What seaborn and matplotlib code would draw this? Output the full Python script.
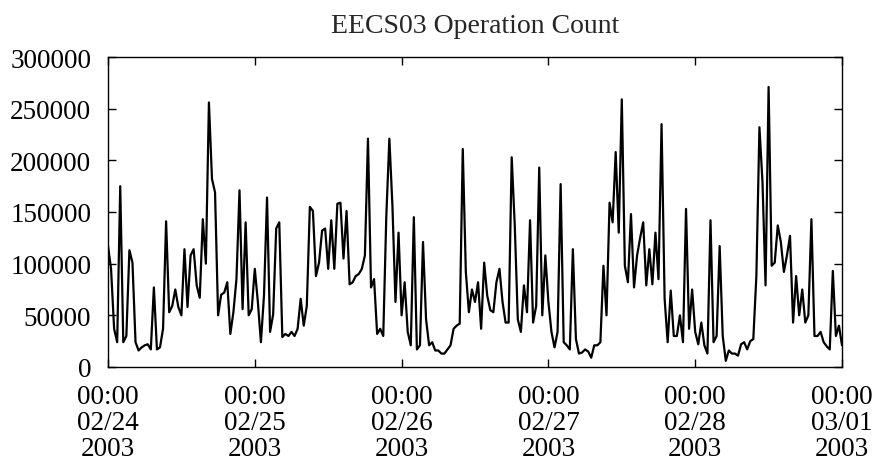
import numpy as np
import pandas as pd
import matplotlib
matplotlib.use("Agg")
import matplotlib.pyplot as plt
import matplotlib.dates as mdates
import seaborn as sns

# ---- data (30-minute samples, thousands of operations) ----
start_time = "2003-02-24 00:00"
sample_freq = "30min"
ops_thousands = [
    117, 95, 37, 24, 175, 24, 30, 113, 101, 24, 16, 19, 21, 22, 17, 77, 17, 19, 37, 141,
    53, 59, 75, 58, 50, 114, 58, 108, 114, 79, 67, 143, 100, 256, 182, 169, 50, 70, 72, 82,
    32, 53, 85, 171, 56, 140, 50, 56, 95, 63, 24, 69, 164, 34, 51, 134, 140, 29, 32, 30,
    34, 30, 37, 66, 40, 59, 155, 151, 88, 101, 132, 134, 95, 142, 95, 158, 159, 105, 151, 80,
    82, 88, 90, 95, 108, 221, 77, 85, 32, 37, 30, 146, 221, 156, 63, 130, 50, 82, 34, 21,
    145, 17, 21, 121, 46, 21, 24, 16, 16, 13, 13, 17, 21, 37, 40, 42, 211, 92, 53, 75,
    63, 82, 37, 101, 69, 55, 53, 82, 95, 63, 43, 43, 203, 137, 46, 34, 79, 53, 142, 43,
    59, 193, 50, 108, 63, 34, 19, 34, 177, 24, 21, 17, 114, 27, 13, 14, 17, 15, 9, 21,
    21, 24, 98, 50, 159, 140, 208, 130, 259, 98, 82, 148, 77, 108, 125, 140, 79, 114, 80, 130,
    85, 235, 66, 24, 74, 30, 30, 50, 24, 153, 37, 75, 34, 22, 43, 21, 13, 142, 24, 30,
    117, 30, 6, 16, 13, 13, 11, 22, 24, 17, 25, 27, 88, 232, 179, 79, 271, 98, 101, 137,
    121, 92, 108, 127, 43, 88, 50, 75, 43, 50, 143, 30, 30, 34, 24, 20, 17, 93, 30, 40,
    21,
]
title_text = "EECS03 Operation Count"
y_ticks = [0, 50000, 100000, 150000, 200000, 250000, 300000]
x_start = "2003-02-24"
x_end = "2003-03-01"

times = pd.date_range(start_time, periods=len(ops_thousands), freq=sample_freq)
df = pd.DataFrame({"time": times, "count": np.array(ops_thousands) * 1000})

sns.set_style("ticks")
plt.rcParams["font.family"] = ["Liberation Serif", "DejaVu Serif"]
plt.rcParams["axes.linewidth"] = 1.0

fig = plt.figure(figsize=(8.8, 4.64), dpi=100)
ax = fig.add_axes([108 / 880, 96 / 464, 734 / 880, 310 / 464])

sns.lineplot(data=df, x="time", y="count", ax=ax, color="black", linewidth=1.6)

ax.set_xlim(pd.Timestamp(x_start), pd.Timestamp(x_end))
ax.set_ylim(0, 300000)
ax.set_yticks(y_ticks)
ax.set_yticklabels([str(v) for v in y_ticks])
ax.xaxis.set_major_locator(mdates.DayLocator())
ax.xaxis.set_major_formatter(mdates.DateFormatter("%H:%M\n%m/%d\n%Y"))
ax.set_xlabel("")
ax.set_ylabel("")
for s in ax.spines.values():
    s.set_visible(True)
    s.set_color("black")
ax.tick_params(direction="in", top=True, right=True, length=6, width=1,
               labelsize=19.5, colors="black")
ax.tick_params(axis="y", pad=12)
ax.tick_params(axis="x", pad=12)
for lab in ax.get_xticklabels():
    lab.set_linespacing(1.07)
ax.set_title(title_text, fontsize=20, pad=18)

fig.savefig("out.png", dpi=100)
